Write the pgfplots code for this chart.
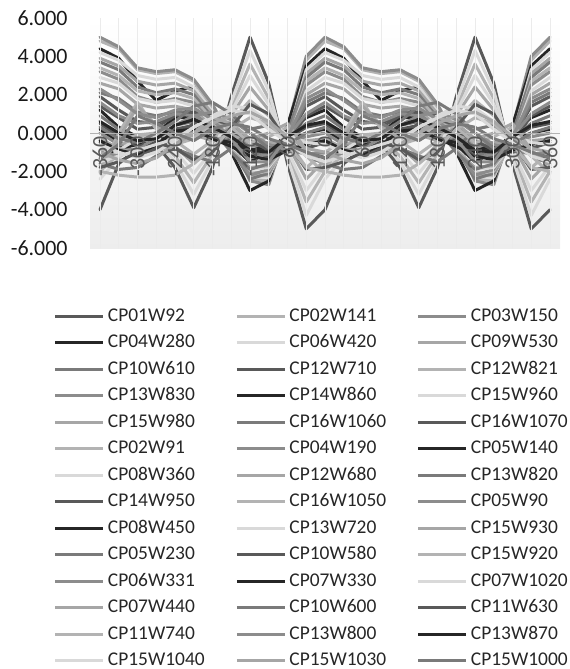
\documentclass[border=0pt]{standalone}
\usepackage{pgfplots}
\pgfplotsset{compat=1.18}
\usepackage{fontspec}
\setmainfont{Carlito}
\definecolor{cA}{HTML}{595959}
\definecolor{cB}{HTML}{B3B3B3}
\definecolor{cC}{HTML}{8C8C8C}
\definecolor{cD}{HTML}{262626}
\definecolor{cE}{HTML}{D9D9D9}
\definecolor{cF}{HTML}{A6A6A6}
\definecolor{cG}{HTML}{7A7A7A}
\begin{document}
\begin{tikzpicture}
\path[use as bounding box] (0,0) rectangle (570bp,-669bp);
\begin{axis}[
  at={(90bp,-248bp)}, anchor=south west,
  scale only axis, width=470bp, height=230bp,
  xmin=-0.533, xmax=24.533, ymin=-6, ymax=6,
  axis on top,
  axis x line=middle, axis y line*=left,
  x axis line style={-, black!30, line width=0.8bp},
  y axis line style={draw=none},
  axis background/.style={shade, top color=white, bottom color=black!7},
  xtick={0,2,...,24},
  xticklabels={-360,-300,-240,-180,-120,-60,0,60,120,180,240,300,360},
  minor xtick={1,3,...,23},
  xmajorgrids, xminorgrids,
  major grid style={black!8, line width=0.6bp},
  minor grid style={black!8, line width=0.6bp},
  major tick length=0pt, minor tick length=0pt,
  ytick={-6,-4,...,6},
  yticklabel style={/pgf/number format/fixed, /pgf/number format/fixed zerofill, /pgf/number format/precision=3, /pgf/number format/1000 sep={}, /pgf/number format/assume math mode=true, anchor=east, xshift=-19bp, text=black!90},
  tick label style={font=\fontsize{22}{26}\selectfont},
  xticklabel style={rotate=90, anchor=east, text=cA},
  every axis plot/.append style={line width=3bp, line join=round, line cap=round},
  legend columns=3,
  legend style={at={(axis description cs:-0.0766,-0.238)}, anchor=north west, draw=none, fill=none,
    inner sep=0pt, outer sep=0pt, row sep=0pt, column sep=0pt,
    font=\fontsize{19.5}{22}\selectfont, text=black!85,
    nodes={inner xsep=3bp, inner ysep=4.25bp, text width=124.5bp, align=left, text height=14bp, text depth=4bp}},
  legend image code/.code={\draw[#1, line width=3bp, line cap=butt] (0bp,0bp) -- (48bp,0bp);},
]
\addplot[draw=cA] coordinates {(0,-4.0)(1,-1.6)(2,-0.8)(3,-0.6)(4,-1.8)(5,-3.9)(6,-1.8)(7,1.9)(8,5.0)(9,2.6)(10,-1.6)(11,-5.0)(12,-4.0)(13,-1.6)(14,-0.8)(15,-0.6)(16,-1.8)(17,-3.9)(18,-1.8)(19,1.9)(20,5.0)(21,2.6)(22,-1.6)(23,-5.0)(24,-4.0)};
\addlegendentry{CP01W92}
\addplot[draw=cB] coordinates {(0,4.8)(1,4.4)(2,3.3)(3,3.1)(4,3.2)(5,2.7)(6,1.3)(7,-0.5)(8,-2.4)(9,-2.5)(10,0.0)(11,3.8)(12,4.8)(13,4.4)(14,3.3)(15,3.1)(16,3.2)(17,2.7)(18,1.3)(19,-0.5)(20,-2.4)(21,-2.5)(22,0.0)(23,3.8)(24,4.8)};
\addlegendentry{CP02W141}
\addplot[draw=cC] coordinates {(0,5.0)(1,4.5)(2,3.4)(3,3.2)(4,3.3)(5,2.8)(6,1.5)(7,-0.3)(8,-2.5)(9,-2.7)(10,0.3)(11,4.0)(12,5.0)(13,4.5)(14,3.4)(15,3.2)(16,3.3)(17,2.8)(18,1.5)(19,-0.3)(20,-2.5)(21,-2.7)(22,0.3)(23,4.0)(24,5.0)};
\addlegendentry{CP03W150}
\addplot[draw=cD] coordinates {(0,4.4)(1,3.9)(2,2.7)(3,1.7)(4,2.2)(5,2.4)(6,0.8)(7,-1.0)(8,-3.0)(9,-2.5)(10,0.4)(11,3.5)(12,4.4)(13,3.9)(14,2.7)(15,1.7)(16,2.2)(17,2.4)(18,0.8)(19,-1.0)(20,-3.0)(21,-2.5)(22,0.4)(23,3.5)(24,4.4)};
\addlegendentry{CP04W280}
\addplot[draw=cE] coordinates {(0,4.2)(1,3.8)(2,3.0)(3,2.8)(4,2.9)(5,2.4)(6,1.1)(7,-0.6)(8,-2.3)(9,-2.3)(10,-0.2)(11,3.3)(12,4.2)(13,3.8)(14,3.0)(15,2.8)(16,2.9)(17,2.4)(18,1.1)(19,-0.6)(20,-2.3)(21,-2.3)(22,-0.2)(23,3.3)(24,4.2)};
\addlegendentry{CP06W420}
\addplot[draw=cF] coordinates {(0,3.9)(1,3.5)(2,2.7)(3,2.5)(4,2.6)(5,2.2)(6,1.0)(7,-0.6)(8,-2.2)(9,-2.2)(10,-0.3)(11,3.1)(12,3.9)(13,3.5)(14,2.7)(15,2.5)(16,2.6)(17,2.2)(18,1.0)(19,-0.6)(20,-2.2)(21,-2.2)(22,-0.3)(23,3.1)(24,3.9)};
\addlegendentry{CP09W530}
\addplot[draw=cG] coordinates {(0,3.7)(1,3.3)(2,2.4)(3,2.1)(4,2.3)(5,2.0)(6,0.8)(7,-0.8)(8,-2.4)(9,-2.1)(10,0.0)(11,2.9)(12,3.7)(13,3.3)(14,2.4)(15,2.1)(16,2.3)(17,2.0)(18,0.8)(19,-0.8)(20,-2.4)(21,-2.1)(22,0.0)(23,2.9)(24,3.7)};
\addlegendentry{CP10W610}
\addplot[draw=cA] coordinates {(0,1.9)(1,1.2)(2,0.6)(3,0.5)(4,1.0)(5,1.2)(6,0.6)(7,-0.2)(8,-1.2)(9,-1.3)(10,-0.3)(11,1.4)(12,1.9)(13,1.2)(14,0.6)(15,0.5)(16,1.0)(17,1.2)(18,0.6)(19,-0.2)(20,-1.2)(21,-1.3)(22,-0.3)(23,1.4)(24,1.9)};
\addlegendentry{CP12W710}
\addplot[draw=cB] coordinates {(0,3.4)(1,3.0)(2,2.2)(3,2.0)(4,2.1)(5,1.8)(6,0.7)(7,-0.8)(8,-2.1)(9,-2.0)(10,-0.4)(11,2.7)(12,3.4)(13,3.0)(14,2.2)(15,2.0)(16,2.1)(17,1.8)(18,0.7)(19,-0.8)(20,-2.1)(21,-2.0)(22,-0.4)(23,2.7)(24,3.4)};
\addlegendentry{CP12W821}
\addplot[draw=cC] coordinates {(0,3.2)(1,2.8)(2,1.9)(3,1.6)(4,1.8)(5,1.6)(6,0.5)(7,-0.9)(8,-2.2)(9,-1.9)(10,-0.2)(11,2.5)(12,3.2)(13,2.8)(14,1.9)(15,1.6)(16,1.8)(17,1.6)(18,0.5)(19,-0.9)(20,-2.2)(21,-1.9)(22,-0.2)(23,2.5)(24,3.2)};
\addlegendentry{CP13W830}
\addplot[draw=cD] coordinates {(0,1.2)(1,0.3)(2,-0.2)(3,0.0)(4,0.8)(5,0.8)(6,0.3)(7,-0.6)(8,-1.5)(9,-1.0)(10,0.0)(11,0.8)(12,1.2)(13,0.3)(14,-0.2)(15,0.0)(16,0.8)(17,0.8)(18,0.3)(19,-0.6)(20,-1.5)(21,-1.0)(22,0.0)(23,0.8)(24,1.2)};
\addlegendentry{CP14W860}
\addplot[draw=cE] coordinates {(0,2.9)(1,2.6)(2,1.8)(3,1.6)(4,1.7)(5,1.4)(6,0.5)(7,-0.8)(8,-1.9)(9,-1.8)(10,-0.5)(11,2.2)(12,2.9)(13,2.6)(14,1.8)(15,1.6)(16,1.7)(17,1.4)(18,0.5)(19,-0.8)(20,-1.9)(21,-1.8)(22,-0.5)(23,2.2)(24,2.9)};
\addlegendentry{CP15W960}
\addplot[draw=cF] coordinates {(0,2.6)(1,2.3)(2,1.5)(3,1.3)(4,1.4)(5,1.2)(6,0.3)(7,-0.9)(8,-1.8)(9,-1.7)(10,-0.5)(11,2.0)(12,2.6)(13,2.3)(14,1.5)(15,1.3)(16,1.4)(17,1.2)(18,0.3)(19,-0.9)(20,-1.8)(21,-1.7)(22,-0.5)(23,2.0)(24,2.6)};
\addlegendentry{CP15W980}
\addplot[draw=cG] coordinates {(0,2.1)(1,1.8)(2,1.1)(3,0.9)(4,1.1)(5,1.0)(6,0.2)(7,-1.0)(8,-1.9)(9,-1.6)(10,-0.4)(11,1.6)(12,2.1)(13,1.8)(14,1.1)(15,0.9)(16,1.1)(17,1.0)(18,0.2)(19,-1.0)(20,-1.9)(21,-1.6)(22,-0.4)(23,1.6)(24,2.1)};
\addlegendentry{CP16W1060}
\addplot[draw=cA] coordinates {(0,1.4)(1,0.8)(2,0.2)(3,0.3)(4,0.9)(5,1.1)(6,0.9)(7,0.2)(8,-0.8)(9,-1.2)(10,-0.5)(11,0.9)(12,1.4)(13,0.8)(14,0.2)(15,0.3)(16,0.9)(17,1.1)(18,0.9)(19,0.2)(20,-0.8)(21,-1.2)(22,-0.5)(23,0.9)(24,1.4)};
\addlegendentry{CP16W1070}
\addplot[draw=cB] coordinates {(0,-2.0)(1,-1.1)(2,-0.5)(3,-0.3)(4,-1.2)(5,-2.6)(6,-1.1)(7,1.3)(8,3.6)(9,1.8)(10,-1.0)(11,-3.6)(12,-2.0)(13,-1.1)(14,-0.5)(15,-0.3)(16,-1.2)(17,-2.6)(18,-1.1)(19,1.3)(20,3.6)(21,1.8)(22,-1.0)(23,-3.6)(24,-2.0)};
\addlegendentry{CP02W91}
\addplot[draw=cC] coordinates {(0,1.6)(1,0.9)(2,0.5)(3,0.6)(4,1.0)(5,0.9)(6,0.4)(7,-0.4)(8,-1.3)(9,-1.1)(10,-0.2)(11,1.0)(12,1.6)(13,0.9)(14,0.5)(15,0.6)(16,1.0)(17,0.9)(18,0.4)(19,-0.4)(20,-1.3)(21,-1.1)(22,-0.2)(23,1.0)(24,1.6)};
\addlegendentry{CP04W190}
\addplot[draw=cD] coordinates {(0,0.2)(1,-0.5)(2,-0.9)(3,-0.7)(4,0.0)(5,0.4)(6,0.0)(7,-0.4)(8,-1.0)(9,-0.8)(10,-0.4)(11,0.0)(12,0.2)(13,-0.5)(14,-0.9)(15,-0.7)(16,0.0)(17,0.4)(18,0.0)(19,-0.4)(20,-1.0)(21,-0.8)(22,-0.4)(23,0.0)(24,0.2)};
\addlegendentry{CP05W140}
\addplot[draw=cE] coordinates {(0,-2.4)(1,-1.3)(2,-0.6)(3,-0.4)(4,-1.5)(5,-3.2)(6,-1.4)(7,1.6)(8,4.3)(9,2.2)(10,-1.3)(11,-4.3)(12,-2.4)(13,-1.3)(14,-0.6)(15,-0.4)(16,-1.5)(17,-3.2)(18,-1.4)(19,1.6)(20,4.3)(21,2.2)(22,-1.3)(23,-4.3)(24,-2.4)};
\addlegendentry{CP08W360}
\addplot[draw=cF] coordinates {(0,-1.4)(1,-0.7)(2,-0.2)(3,-0.1)(4,-0.7)(5,-1.6)(6,-0.6)(7,0.9)(8,2.4)(9,1.2)(10,-0.6)(11,-2.4)(12,-1.4)(13,-0.7)(14,-0.2)(15,-0.1)(16,-0.7)(17,-1.6)(18,-0.6)(19,0.9)(20,2.4)(21,1.2)(22,-0.6)(23,-2.4)(24,-1.4)};
\addlegendentry{CP12W680}
\addplot[draw=cG] coordinates {(0,0.9)(1,0.2)(2,-0.4)(3,-0.3)(4,0.4)(5,0.6)(6,0.1)(7,-0.5)(8,-1.2)(9,-0.9)(10,-0.3)(11,0.5)(12,0.9)(13,0.2)(14,-0.4)(15,-0.3)(16,0.4)(17,0.6)(18,0.1)(19,-0.5)(20,-1.2)(21,-0.9)(22,-0.3)(23,0.5)(24,0.9)};
\addlegendentry{CP13W820}
\addplot[draw=cA] coordinates {(0,0.5)(1,-0.2)(2,-0.6)(3,-0.5)(4,0.2)(5,0.4)(6,-0.1)(7,-0.3)(8,-0.9)(9,-0.7)(10,-0.3)(11,0.3)(12,0.5)(13,-0.2)(14,-0.6)(15,-0.5)(16,0.2)(17,0.4)(18,-0.1)(19,-0.3)(20,-0.9)(21,-0.7)(22,-0.3)(23,0.3)(24,0.5)};
\addlegendentry{CP14W950}
\addplot[draw=cB] coordinates {(0,-1.0)(1,-0.4)(2,-0.1)(3,0.0)(4,-0.4)(5,-1.1)(6,-0.4)(7,0.6)(8,1.7)(9,0.9)(10,-0.4)(11,-1.8)(12,-1.0)(13,-0.4)(14,-0.1)(15,0.0)(16,-0.4)(17,-1.1)(18,-0.4)(19,0.6)(20,1.7)(21,0.9)(22,-0.4)(23,-1.8)(24,-1.0)};
\addlegendentry{CP16W1050}
\addplot[draw=cC] coordinates {(0,0.0)(1,-0.6)(2,-1.0)(3,-0.9)(4,-0.3)(5,0.1)(6,-0.3)(7,-0.2)(8,-0.7)(9,-0.6)(10,-0.4)(11,-0.2)(12,0.0)(13,-0.6)(14,-1.0)(15,-0.9)(16,-0.3)(17,0.1)(18,-0.3)(19,-0.2)(20,-0.7)(21,-0.6)(22,-0.4)(23,-0.2)(24,0.0)};
\addlegendentry{CP05W90}
\addplot[draw=cD] coordinates {(0,-1.3)(1,-0.8)(2,-0.6)(3,-0.5)(4,0.0)(5,0.2)(6,-0.3)(7,-0.5)(8,-0.9)(9,-0.7)(10,-0.8)(11,-1.0)(12,-1.3)(13,-0.8)(14,-0.6)(15,-0.5)(16,0.0)(17,0.2)(18,-0.3)(19,-0.5)(20,-0.9)(21,-0.7)(22,-0.8)(23,-1.0)(24,-1.3)};
\addlegendentry{CP08W450}
\addplot[draw=cE] coordinates {(0,-1.7)(1,-0.9)(2,-0.3)(3,-0.2)(4,-0.9)(5,-2.1)(6,-0.9)(7,1.1)(8,3.0)(9,1.5)(10,-0.9)(11,-3.0)(12,-1.7)(13,-0.9)(14,-0.3)(15,-0.2)(16,-0.9)(17,-2.1)(18,-0.9)(19,1.1)(20,3.0)(21,1.5)(22,-0.9)(23,-3.0)(24,-1.7)};
\addlegendentry{CP13W720}
\addplot[draw=cF] coordinates {(0,-0.3)(1,-0.8)(2,-1.1)(3,-1.0)(4,-0.5)(5,-0.1)(6,-0.4)(7,-0.1)(8,-0.5)(9,-0.5)(10,-0.5)(11,-0.4)(12,-0.3)(13,-0.8)(14,-1.1)(15,-1.0)(16,-0.5)(17,-0.1)(18,-0.4)(19,-0.1)(20,-0.5)(21,-0.5)(22,-0.5)(23,-0.4)(24,-0.3)};
\addlegendentry{CP15W930}
\addplot[draw=cG] coordinates {(0,-1.6)(1,-1.9)(2,-1.8)(3,-1.2)(4,-0.8)(5,-1.2)(6,-1.5)(7,-0.8)(8,0.2)(9,0.4)(10,-0.3)(11,-1.2)(12,-1.6)(13,-1.9)(14,-1.8)(15,-1.2)(16,-0.8)(17,-1.2)(18,-1.5)(19,-0.8)(20,0.2)(21,0.4)(22,-0.3)(23,-1.2)(24,-1.6)};
\addlegendentry{CP05W230}
\addplot[draw=cA] coordinates {(0,-0.5)(1,-0.9)(2,-1.2)(3,-0.8)(4,-0.2)(5,0.5)(6,0.7)(7,0.4)(8,-0.4)(9,-0.9)(10,-1.0)(11,-0.8)(12,-0.5)(13,-0.9)(14,-1.2)(15,-0.8)(16,-0.2)(17,0.5)(18,0.7)(19,0.4)(20,-0.4)(21,-0.9)(22,-1.0)(23,-0.8)(24,-0.5)};
\addlegendentry{CP10W580}
\addplot[draw=cB] coordinates {(0,-2.1)(1,0.0)(2,1.6)(3,0.2)(4,-0.6)(5,-0.3)(6,0.5)(7,0.3)(8,-0.5)(9,-0.2)(10,0.3)(11,-1.2)(12,-2.1)(13,0.0)(14,1.6)(15,0.2)(16,-0.6)(17,-0.3)(18,0.5)(19,0.3)(20,-0.5)(21,-0.2)(22,0.3)(23,-1.2)(24,-2.1)};
\addlegendentry{CP15W920}
\addplot[draw=cC] coordinates {(0,-1.0)(1,-1.2)(2,-0.8)(3,-0.3)(4,0.4)(5,0.9)(6,1.1)(7,0.7)(8,0.0)(9,-0.6)(10,-0.9)(11,-1.1)(12,-1.0)(13,-1.2)(14,-0.8)(15,-0.3)(16,0.4)(17,0.9)(18,1.1)(19,0.7)(20,0.0)(21,-0.6)(22,-0.9)(23,-1.1)(24,-1.0)};
\addlegendentry{CP06W331}
\addplot[draw=cD] coordinates {(0,-0.4)(1,-0.9)(2,-1.1)(3,-0.6)(4,0.1)(5,0.2)(6,-0.3)(7,-0.7)(8,-1.2)(9,-1.4)(10,-0.9)(11,-0.6)(12,-0.4)(13,-0.9)(14,-1.1)(15,-0.6)(16,0.1)(17,0.2)(18,-0.3)(19,-0.7)(20,-1.2)(21,-1.4)(22,-0.9)(23,-0.6)(24,-0.4)};
\addlegendentry{CP07W330}
\addplot[draw=cE] coordinates {(0,-0.6)(1,-1.0)(2,-1.3)(3,-1.0)(4,-0.4)(5,0.3)(6,0.9)(7,1.4)(8,1.3)(9,0.6)(10,-0.1)(11,-0.5)(12,-0.6)(13,-1.0)(14,-1.3)(15,-1.0)(16,-0.4)(17,0.3)(18,0.9)(19,1.4)(20,1.3)(21,0.6)(22,-0.1)(23,-0.5)(24,-0.6)};
\addlegendentry{CP07W1020}
\addplot[draw=cF] coordinates {(0,-1.7)(1,-0.3)(2,1.4)(3,0.4)(4,-0.3)(5,0.0)(6,0.8)(7,0.5)(8,-0.3)(9,0.0)(10,0.5)(11,-0.9)(12,-1.7)(13,-0.3)(14,1.4)(15,0.4)(16,-0.3)(17,0.0)(18,0.8)(19,0.5)(20,-0.3)(21,0.0)(22,0.5)(23,-0.9)(24,-1.7)};
\addlegendentry{CP07W440}
\addplot[draw=cG] coordinates {(0,0.3)(1,-0.3)(2,-0.5)(3,0.0)(4,0.6)(5,1.4)(6,1.6)(7,1.0)(8,0.0)(9,-0.8)(10,-0.6)(11,0.0)(12,0.3)(13,-0.3)(14,-0.5)(15,0.0)(16,0.6)(17,1.4)(18,1.6)(19,1.0)(20,0.0)(21,-0.8)(22,-0.6)(23,0.0)(24,0.3)};
\addlegendentry{CP10W600}
\addplot[draw=cA] coordinates {(0,-1.8)(1,-1.5)(2,-1.0)(3,-0.5)(4,-0.8)(5,-1.4)(6,-1.0)(7,0.3)(8,1.5)(9,1.0)(10,-0.5)(11,-1.9)(12,-1.8)(13,-1.5)(14,-1.0)(15,-0.5)(16,-0.8)(17,-1.4)(18,-1.0)(19,0.3)(20,1.5)(21,1.0)(22,-0.5)(23,-1.9)(24,-1.8)};
\addlegendentry{CP11W630}
\addplot[draw=cB] coordinates {(0,-2.0)(1,-2.2)(2,-2.3)(3,-2.3)(4,-2.2)(5,-1.6)(6,-0.8)(7,0.2)(8,0.8)(9,0.5)(10,-0.6)(11,-1.8)(12,-2.0)(13,-2.2)(14,-2.3)(15,-2.3)(16,-2.2)(17,-1.6)(18,-0.8)(19,0.2)(20,0.8)(21,0.5)(22,-0.6)(23,-1.8)(24,-2.0)};
\addlegendentry{CP11W740}
\addplot[draw=cC] coordinates {(0,2.3)(1,1.7)(2,1.0)(3,0.8)(4,1.2)(5,1.3)(6,0.7)(7,-0.3)(8,-1.5)(9,-1.5)(10,-0.2)(11,1.8)(12,2.3)(13,1.7)(14,1.0)(15,0.8)(16,1.2)(17,1.3)(18,0.7)(19,-0.3)(20,-1.5)(21,-1.5)(22,-0.2)(23,1.8)(24,2.3)};
\addlegendentry{CP13W800}
\addplot[draw=cD] coordinates {(0,0.6)(1,0.0)(2,-0.4)(3,-0.3)(4,0.4)(5,0.7)(6,0.3)(7,-0.2)(8,-0.9)(9,-1.0)(10,-0.2)(11,0.4)(12,0.6)(13,0.0)(14,-0.4)(15,-0.3)(16,0.4)(17,0.7)(18,0.3)(19,-0.2)(20,-0.9)(21,-1.0)(22,-0.2)(23,0.4)(24,0.6)};
\addlegendentry{CP13W870}
\addplot[draw=cE] coordinates {(0,-1.5)(1,-1.2)(2,-0.9)(3,-0.6)(4,-0.3)(5,0.3)(6,0.8)(7,1.2)(8,1.0)(9,0.2)(10,-0.5)(11,-1.2)(12,-1.5)(13,-1.2)(14,-0.9)(15,-0.6)(16,-0.3)(17,0.3)(18,0.8)(19,1.2)(20,1.0)(21,0.2)(22,-0.5)(23,-1.2)(24,-1.5)};
\addlegendentry{CP15W1040}
\addplot[draw=cF] coordinates {(0,-1.0)(1,-1.4)(2,-1.6)(3,-1.3)(4,-0.6)(5,0.0)(6,0.5)(7,0.9)(8,1.1)(9,0.6)(10,-0.2)(11,-0.8)(12,-1.0)(13,-1.4)(14,-1.6)(15,-1.3)(16,-0.6)(17,0.0)(18,0.5)(19,0.9)(20,1.1)(21,0.6)(22,-0.2)(23,-0.8)(24,-1.0)};
\addlegendentry{CP15W1030}
\addplot[draw=cG] coordinates {(0,-1.3)(1,-0.6)(2,0.9)(3,0.5)(4,0.0)(5,-0.4)(6,0.2)(7,0.5)(8,0.3)(9,-0.3)(10,-0.6)(11,-1.0)(12,-1.3)(13,-0.6)(14,0.9)(15,0.5)(16,0.0)(17,-0.4)(18,0.2)(19,0.5)(20,0.3)(21,-0.3)(22,-0.6)(23,-1.0)(24,-1.3)};
\addlegendentry{CP15W1000}
\end{axis}
\end{tikzpicture}
\end{document}
